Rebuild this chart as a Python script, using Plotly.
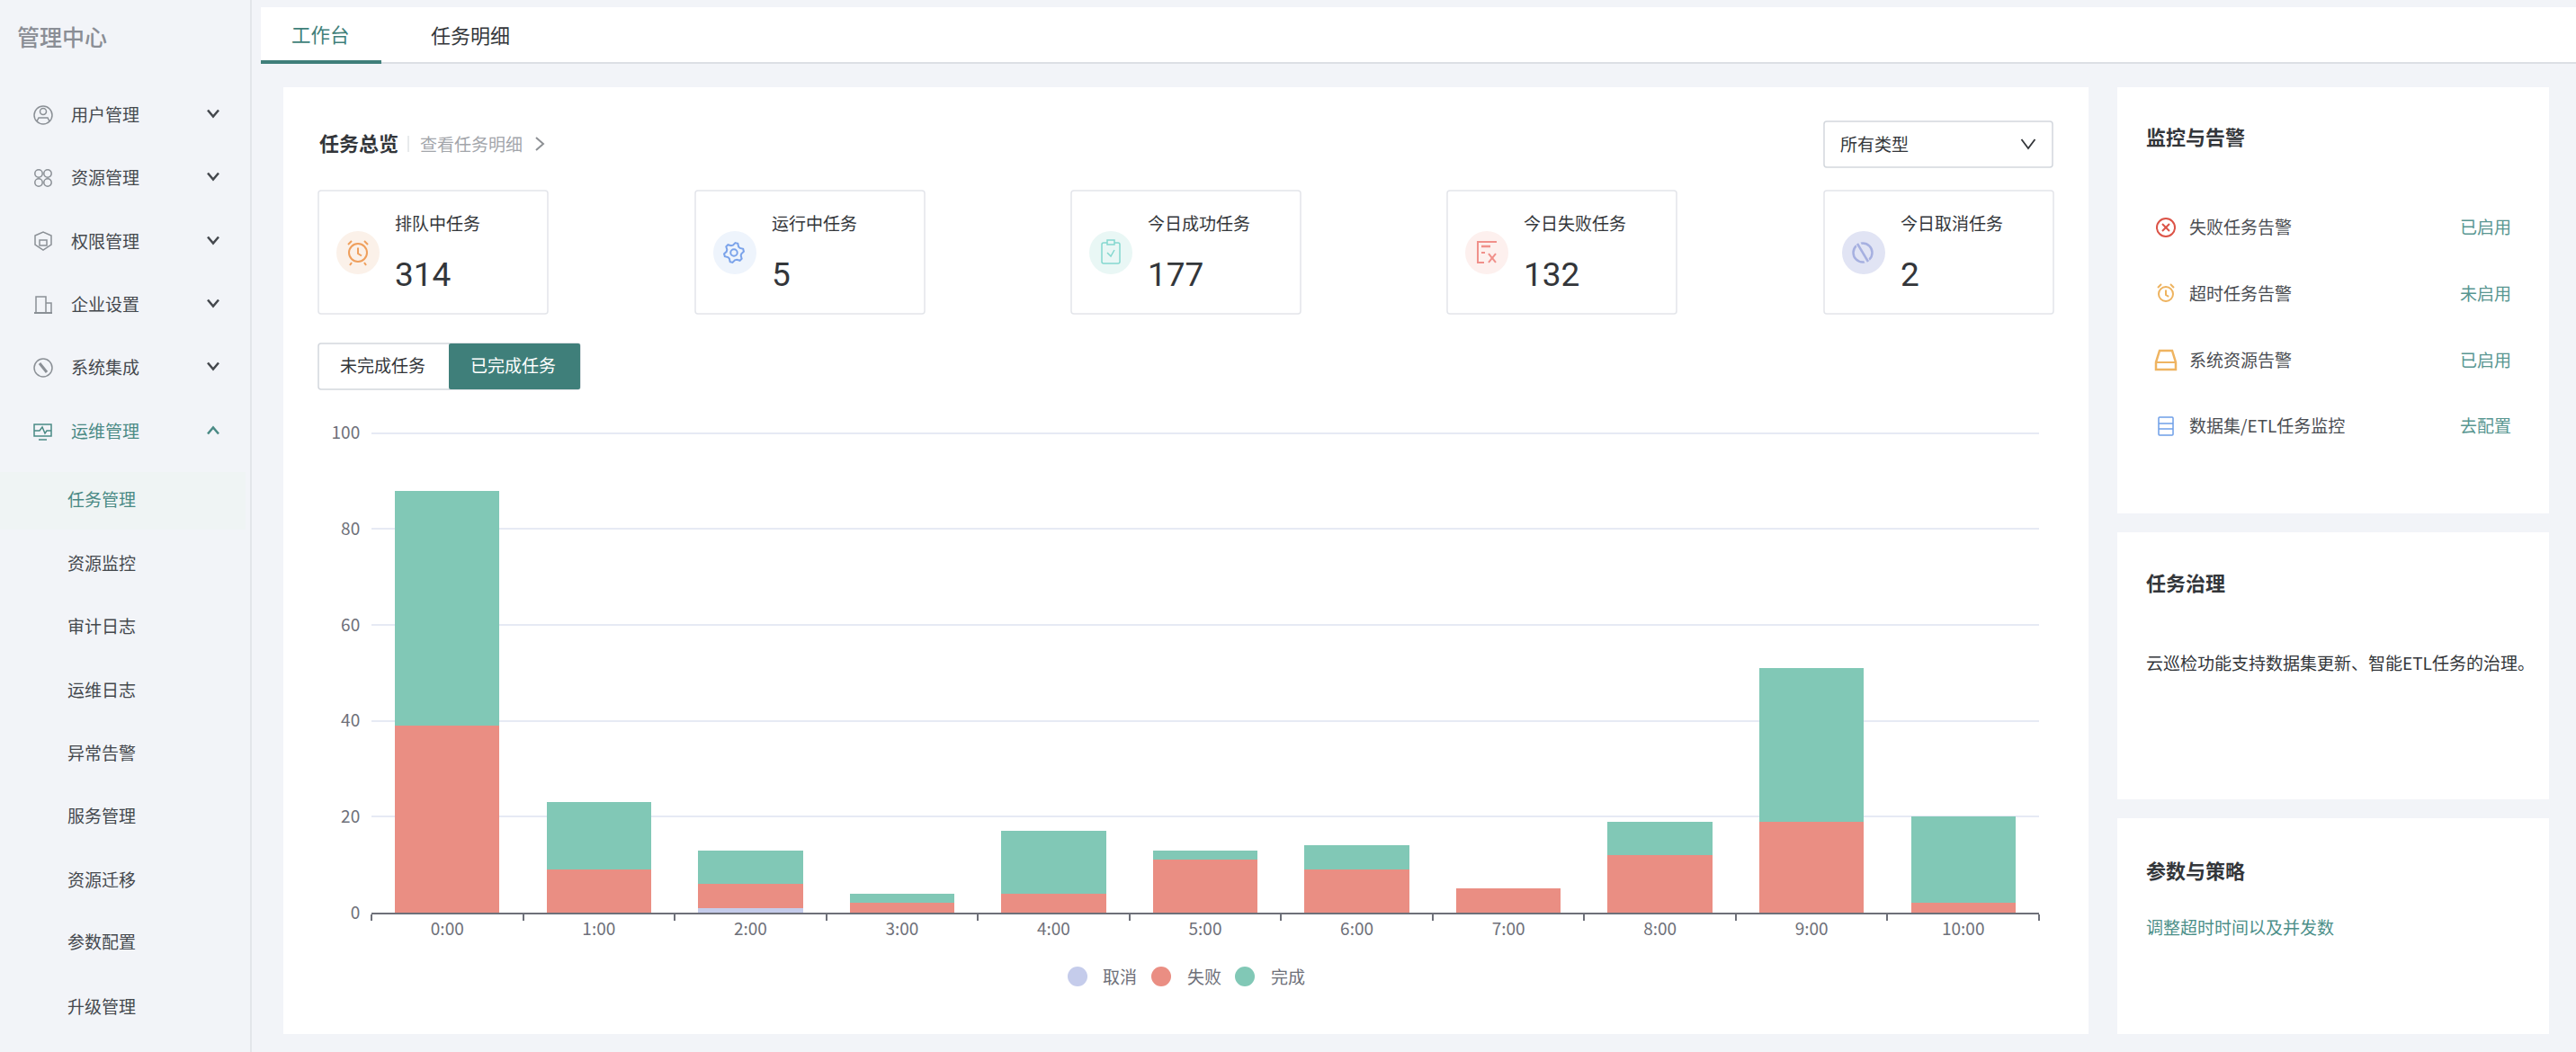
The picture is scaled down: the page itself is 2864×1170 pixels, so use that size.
import math
import plotly.graph_objects as go

W, H = 2864, 1170
CJK = "Noto Sans CJK SC"
TEAL = "#3f7f7a"
LINK = "#589691"
DARK = "#33363a"
AXIS = "#6e7079"
BORDER = "#e3e5ea"

hours = ["0:00", "1:00", "2:00", "3:00", "4:00", "5:00", "6:00", "7:00", "8:00", "9:00", "10:00"]
cancelled = [0, 0, 1, 0, 0, 0, 0, 0, 0, 0, 0]
failed = [39, 9, 5, 2, 4, 11, 9, 5, 12, 19, 2]
finished = [49, 14, 7, 2, 13, 2, 5, 0, 7, 32, 18]
series_names = ["取消", "失败", "完成"]
series_colors = ["#c5cceb", "#ea8e83", "#81c8b6"]

nav_top = ["用户管理", "资源管理", "权限管理", "企业设置", "系统集成"]
nav_top_y = [128, 198, 269, 339, 409]
nav_sub = ["任务管理", "资源监控", "审计日志", "运维日志", "异常告警", "服务管理", "资源迁移", "参数配置", "升级管理"]
nav_sub_y = [556, 627, 697, 768, 838, 908, 979, 1048, 1120]

kpi_labels = ["排队中任务", "运行中任务", "今日成功任务", "今日失败任务", "今日取消任务"]
kpi_values = ["314", "5", "177", "132", "2"]
kpi_x = [354, 773, 1191, 1609, 2028]
kpi_bg = ["#fbf1e9", "#eef4fc", "#e9f7f5", "#fdf0ee", "#e1e4f4"]

alert_labels = ["失败任务告警", "超时任务告警", "系统资源告警", "数据集/ETL任务监控"]
alert_status = ["已启用", "未启用", "已启用", "去配置"]
alert_y = [253, 327, 401, 474]

shapes = []
annotations = []


def fx(x):
    return x / W


def fy(y):
    return 1 - y / H


def poly(points, color=None, width=2, closed=False, fill=None):
    d = "M" + " L".join(f"{fx(x):.5f},{fy(y):.5f}" for x, y in points)
    if closed:
        d += " Z"
    shapes.append(dict(type="path", xref="paper", yref="paper", path=d, fillcolor=fill, layer="below",
                       line=dict(color=color or "rgba(0,0,0,0)", width=width if color else 0)))


def box(x0, y0, x1, y1, fill=None, color=None, width=1.5, r=0):
    if r == 0:
        poly([(x0, y0), (x1, y0), (x1, y1), (x0, y1)], color, width, True, fill)
        return
    p = lambda x, y: f"{fx(x):.5f},{fy(y):.5f}"
    d = (f"M{p(x0 + r, y0)} L{p(x1 - r, y0)} Q{p(x1, y0)} {p(x1, y0 + r)} L{p(x1, y1 - r)} "
         f"Q{p(x1, y1)} {p(x1 - r, y1)} L{p(x0 + r, y1)} Q{p(x0, y1)} {p(x0, y1 - r)} "
         f"L{p(x0, y0 + r)} Q{p(x0, y0)} {p(x0 + r, y0)} Z")
    shapes.append(dict(type="path", xref="paper", yref="paper", path=d, fillcolor=fill, layer="below",
                       line=dict(color=color or "rgba(0,0,0,0)", width=width if color else 0)))


def ring(cx, cy, r, color=None, width=2, fill=None):
    shapes.append(dict(type="circle", xref="paper", yref="paper", layer="below",
                       x0=fx(cx - r), x1=fx(cx + r), y0=fy(cy + r), y1=fy(cy - r), fillcolor=fill,
                       line=dict(color=color or "rgba(0,0,0,0)", width=width if color else 0)))


def label(x, y, text, size=19, color=DARK, anchor="left", weight=None, family=CJK):
    # small nudge, the font sits a bit lower and to the right of the reference
    dx = 2 if anchor == "right" else -1.5
    annotations.append(dict(xref="paper", yref="paper", x=fx(x + dx), y=fy(y - 1.5), text=text, showarrow=False,
                            xanchor=anchor, yanchor="middle", borderpad=0,
                            font=dict(family=family, size=size, color=color, weight=weight)))


def clock(cx, cy, r, color):
    ring(cx, cy, r, color)
    poly([(cx, cy - r * 0.55), (cx, cy + 1), (cx + r * 0.4, cy + r * 0.35)], color)
    poly([(cx - r - 1, cy - r + 1), (cx - r + 3, cy - r - 3)], color)
    poly([(cx + r + 1, cy - r + 1), (cx + r - 3, cy - r - 3)], color)


def gear(cx, cy, r, color):
    pts = []
    for i in range(24):
        rad = r if i % 4 in (0, 1) else r * 0.76
        a = math.radians(i * 15 + 8)
        pts.append((cx + rad * math.sin(a), cy - rad * math.cos(a)))
    poly(pts, color, 2, True)
    ring(cx, cy, r * 0.34, color)


def chevron(cx, cy, w, h, color, width=2.5, up=False):
    a, b = (cy + h / 2, cy - h / 2) if up else (cy - h / 2, cy + h / 2)
    poly([(cx - w / 2, a), (cx, b), (cx + w / 2, a)], color, width)


# sidebar
poly([(279, 0), (279, H)], "#e3e6ea", 2)
label(19, 42, "管理中心", 25, "#8a8e95", weight=500)
box(0, 525, 273, 589, fill="#eff4f4")
for name, y in zip(nav_top, nav_top_y):
    label(79, y, name, 19, "#44484d")
    chevron(237, y - 2, 12, 7, "#44484d")
nav_gray = "#8b9096"
ring(48, 128, 10, nav_gray, 1.5)
ring(48, 124, 3.5, nav_gray, 1.5)
poly([(41, 135), (43, 131), (53, 131), (55, 135)], nav_gray, 1.5)
for cx, cy in [(43, 193), (53, 193), (43, 203), (53, 203)]:
    ring(cx, cy, 4.2, nav_gray, 1.5)
poly([(39, 262), (48, 258), (57, 262), (57, 272), (48, 278), (39, 272)], nav_gray, 1.5, True)
box(44, 267, 52, 273, color=nav_gray, width=1.5)
poly([(38, 348), (58, 348)], nav_gray, 2)
box(40, 330, 51, 348, color=nav_gray, width=1.5)
poly([(51, 337), (57, 337), (57, 348)], nav_gray, 1.5)
ring(48, 409, 10, nav_gray, 1.5)
poly([(44, 404), (52, 414)], nav_gray, 3)

box(38, 472, 57, 485, color="#4a8a85", width=1.5)
poly([(38, 479), (44, 479), (47, 475), (50, 482), (52, 479), (57, 479)], "#4a8a85", 1.5)
poly([(43, 489), (52, 489)], "#4a8a85", 1.5)
label(79, 480, "运维管理", 19, "#4a8a85")
chevron(237, 479, 12, 7, "#4a8a85", up=True)
for i, (name, y) in enumerate(zip(nav_sub, nav_sub_y)):
    label(75, y, name, 19, "#4a8a85" if i == 0 else "#44484d")

# tabs
box(290, 8, W, 70, fill="#ffffff")
poly([(290, 70), (W, 70)], "#dcdfe4", 2)
box(290, 67, 424, 71, fill=TEAL)
label(324, 39, "工作台", 21.5, TEAL)
label(479, 39, "任务明细", 22, DARK)

# panels
box(315, 97, 2322, 1150, fill="#ffffff")
box(2354, 97, 2834, 571, fill="#ffffff")
box(2354, 592, 2834, 889, fill="#ffffff")
box(2354, 910, 2834, 1150, fill="#ffffff")

# overview header
label(355, 160, "任务总览", 22, DARK, weight=700)
poly([(454, 151), (454, 169)], "#e1e3e6", 1.5)
label(467, 161, "查看任务明细", 19, "#a3a6ab")
poly([(596, 153), (604, 160), (596, 167)], "#8d9094", 2)
box(2028, 135, 2282, 186, color="#d3d7dd", r=3)
label(2046, 161, "所有类型", 19, DARK)
chevron(2255, 160, 15, 10, DARK, 1.8)

# kpi cards
for x0, name, value, bg in zip(kpi_x, kpi_labels, kpi_values, kpi_bg):
    box(x0, 212, x0 + 255, 349, color=BORDER, r=3)
    ring(x0 + 44, 281, 24, fill=bg)
    label(x0 + 85, 249, name, 19, DARK)
    label(x0 + 85, 307, value, 37, DARK, family="Roboto")
clock(398, 281, 10, "#ef9f5c")
poly([(391, 292), (389, 295)], "#ef9f5c")
poly([(405, 292), (407, 295)], "#ef9f5c")
gear(816, 281, 11, "#7ba3ea")
box(1225, 270, 1245, 293, color="#84d8cf", r=2)
box(1231, 267, 1239, 272, color="#84d8cf", fill="#e9f7f5")
poly([(1231, 281), (1235, 285), (1239, 278)], "#84d8cf", 1.5)
poly([(1663, 270), (1663, 269), (1643, 269), (1643, 292), (1650, 292)], "#f0908a", 2)
poly([(1647, 274), (1657, 274)], "#f0908a", 2.5)
poly([(1647, 281), (1651, 281)], "#f0908a", 2)
poly([(1655, 282), (1663, 292)], "#f0908a", 2)
poly([(1663, 282), (1655, 292)], "#f0908a", 2)
ring(2071, 281, 10.5, "#a6b0e0", 2.5)
poly([(2065, 269), (2077, 293)], "#e1e4f4", 6)
poly([(2065, 271), (2077, 291)], "#a6b0e0", 2.5)

# toggle
box(354, 382, 645, 433, color="#d3d7dd", r=3)
box(499, 382, 645, 433, fill=TEAL, r=2)
label(427.5, 407, "未完成任务", 19, DARK, "center")
label(572, 407, "已完成任务", 19, "#ffffff", "center")

# chart legend
legend_dot_x = [1198, 1291, 1384]
legend_text_x = [1226, 1320, 1413]
for name, color, cx, tx in zip(series_names, series_colors, legend_dot_x, legend_text_x):
    ring(cx, 1086, 11, fill=color)
    label(tx, 1087, name, 19, AXIS)

# monitor panel
label(2386, 153, "监控与告警", 22, DARK, weight=700)
for name, status, y in zip(alert_labels, alert_status, alert_y):
    label(2434, y, name, 19, "#4a4d52")
    label(2791, y, status, 19, LINK, "right")
ring(2408, 253, 10, "#dc5347", 2)
poly([(2404, 249), (2412, 257)], "#dc5347", 2)
poly([(2412, 249), (2404, 257)], "#dc5347", 2)
clock(2408, 327, 8, "#eeb35f")
poly([(2401, 390), (2415, 390), (2419, 403), (2419, 411), (2397, 411), (2397, 403)], "#efb461", 2.5, True)
poly([(2397, 403), (2419, 403)], "#efb461", 2)
box(2400, 464, 2416, 484, color="#6e9fe8", r=1)
poly([(2400, 471), (2416, 471)], "#6e9fe8", 1.5)
poly([(2400, 477), (2416, 477)], "#6e9fe8", 1.5)

# governance and strategy panels
label(2386, 648, "任务治理", 22, DARK, weight=700)
label(2386, 738, "云巡检功能支持数据集更新、智能ETL任务的治理。", 19, DARK)
label(2386, 968, "参数与策略", 22, DARK, weight=700)
label(2386, 1032, "调整超时时间以及并发数", 19, "#4c8f89")

fig = go.Figure()
for name, color, values in zip(series_names, series_colors, [cancelled, failed, finished]):
    fig.add_trace(go.Bar(x=hours, y=values, name=name, marker=dict(color=color, line_width=0), showlegend=False))

# range goes a hair past 100, plotly drops the gridline sitting right on the axis end
fig.update_layout(
    width=W, height=H, autosize=False, barmode="stack", bargap=0.31,
    margin=dict(l=0, r=0, t=0, b=0, pad=0, autoexpand=False),
    paper_bgcolor="#f2f4f8", plot_bgcolor="rgba(0,0,0,0)",
    font=dict(family=CJK, size=19, color=AXIS),
    shapes=shapes, annotations=annotations,
    xaxis=dict(domain=[fx(413), fx(2267)], type="category", tickson="boundaries", ticks="outside",
               ticklen=7, tickwidth=2, tickcolor=AXIS, showline=True, linecolor=AXIS, linewidth=2,
               showgrid=False, range=[-0.5, 10.5], tickfont=dict(size=19, color=AXIS)),
    yaxis=dict(domain=[fy(1015), fy(1015 - 533.5 * 1.005)], range=[0, 100.5], dtick=20, ticks="outside", ticklen=8,
               tickcolor="rgba(0,0,0,0)", gridcolor="#e6eaf4", gridwidth=2, zeroline=False,
               showline=False, tickfont=dict(size=19, color=AXIS)),
)

fig.write_html("out.html", config=dict(displayModeBar=False),
               post_script="document.body.style.margin='0';")
